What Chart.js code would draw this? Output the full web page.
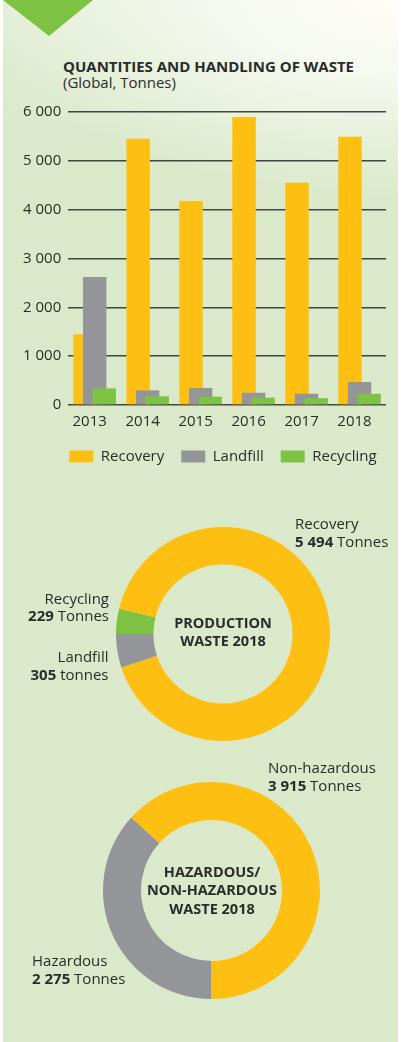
<!DOCTYPE html>
<html>
<head>
<meta charset="utf-8">
<script src="https://cdn.jsdelivr.net/npm/chart.js@4.4.1/dist/chart.umd.min.js"></script>
<style>
  html, body { margin:0; padding:0; width:401px; height:1042px; overflow:hidden; background:#ffffff; }
  #panel { position:absolute; left:3px; top:0; width:395px; height:1042px;
    background:
      linear-gradient(to bottom, rgba(255,255,255,0.22) 0px, rgba(255,255,255,0) 140px),
      radial-gradient(ellipse 420px 200px at 100% 0%, #fffdf4 0%, #f5f9ef 35%, rgba(218,233,202,0) 100%),
      #dae9ca; }
  #tri { position:absolute; left:0; top:0; width:100px; height:40px; background:#7dc243;
    clip-path: polygon(3px 0, 93px 0, 49px 36px); }
  .t { position:absolute; font-family:'Open Sans', sans-serif; color:#2b2b2b; font-size:15px; line-height:18px; white-space:nowrap; }
  .t b { font-weight:700; }
  .ctr { position:absolute; width:170px; text-align:center; font-family:'Open Sans', sans-serif; font-weight:700;
    font-size:14.5px; line-height:18.5px; color:#2b2b2b; white-space:nowrap; }
  canvas { position:absolute; }
</style>
</head>
<body>
<div id="panel"></div>
<div id="tri"></div>

<div class="t" style="left:63px; top:57.5px; line-height:16px;"><b id="title"></b><br><span id="subtitle"></span></div>

<canvas id="bar" width="401" height="385" style="left:0; top:96px; width:401px; height:385px;"></canvas>

<canvas id="d1" width="214" height="214" style="left:116px; top:527px; width:214px; height:214px;"></canvas>
<div class="ctr" id="c1" style="left:138px; top:613.6px;"></div>
<div class="t" id="lRecovery" style="left:295px; top:513.5px;"></div>
<div class="t" id="lRecycling" style="right:292px; top:589.5px; text-align:right; line-height:17.5px;"></div>
<div class="t" id="lLandfill" style="right:292.5px; top:646.5px; text-align:right;"></div>

<canvas id="d2" width="217" height="217" style="left:103px; top:782px; width:217px; height:217px;"></canvas>
<div class="ctr" id="c2" style="left:127px; top:862.8px;"></div>
<div class="t" id="lNonHaz" style="left:268px; top:757.5px; line-height:18.5px;"></div>
<div class="t" id="lHaz" style="left:32px; top:951px;"></div>

<script>
// ---- data ----
const chartTitle = 'QUANTITIES AND HANDLING OF WASTE';
const chartSubtitle = '(Global, Tonnes)';
const years = ['2013', '2014', '2015', '2016', '2017', '2018'];
const seriesNames = ['Recovery', 'Landfill', 'Recycling'];
const recovery = [1450, 5450, 4180, 5900, 4550, 5494];
const landfill = [2620, 300, 350, 250, 230, 470];
const recycling = [340, 180, 170, 150, 140, 229];
const yMin = 0, yMax = 6000, yStep = 1000;

const productionTitle = ['PRODUCTION', 'WASTE 2018'];
const productionLabels = ['Recovery', 'Landfill', 'Recycling'];
const productionValues = [5494, 305, 229];
const productionUnits = ['Tonnes', 'tonnes', 'Tonnes'];

const hazardTitle = ['HAZARDOUS/', 'NON-HAZARDOUS', 'WASTE 2018'];
const hazardLabels = ['Hazardous', 'Non-hazardous'];
const hazardValues = [2275, 3915];
const hazardUnits = ['Tonnes', 'Tonnes'];

// ---- styles ----
const YELLOW = '#fdc012', GREY = '#939598', GREEN = '#7dc243', TEXT = '#2b2b2b';
const FONT = "'Open Sans', sans-serif";
Chart.defaults.font.family = FONT;
Chart.defaults.color = TEXT;

const fmt = v => String(v).replace(/\B(?=(\d{3})+(?!\d))/g, ' ');

document.getElementById('title').textContent = chartTitle;
document.getElementById('subtitle').textContent = chartSubtitle;
document.getElementById('c1').innerHTML = productionTitle.join('<br>');
document.getElementById('c2').innerHTML = hazardTitle.join('<br>');
const lab = (id, name, v, unit) => {
  document.getElementById(id).innerHTML = name + '<br><b>' + fmt(v) + '</b> ' + unit;
};
lab('lRecovery', productionLabels[0], productionValues[0], productionUnits[0]);
lab('lLandfill', productionLabels[1], productionValues[1], productionUnits[1]);
lab('lRecycling', productionLabels[2], productionValues[2], productionUnits[2]);
lab('lHaz', hazardLabels[0], hazardValues[0], hazardUnits[0]);
lab('lNonHaz', hazardLabels[1], hazardValues[1], hazardUnits[1]);

// draw datasets in index order so later series overlap earlier ones
const indexOrderDraw = {
  id: 'indexOrderDraw',
  beforeDatasetsDraw(chart) {
    chart.getSortedVisibleDatasetMetas().forEach(m => m.controller.draw());
    return false;
  }
};
// nudge the legend row, as in the original layout
const legendShift = {
  id: 'legendShift',
  afterLayout(chart) {
    const lg = chart.legend;
    if (lg) { lg.left += 22; lg.right += 22; lg.top -= 7; lg.bottom -= 7; }
  }
};

new Chart(document.getElementById('bar'), {
  type: 'bar',
  data: {
    labels: years,
    datasets: [
      { label: seriesNames[0], data: recovery, backgroundColor: YELLOW },
      { label: seriesNames[1], data: landfill, backgroundColor: GREY },
      { label: seriesNames[2], data: recycling, backgroundColor: GREEN }
    ]
  },
  options: {
    responsive: false,
    devicePixelRatio: 1,
    animation: false,
    categoryPercentage: 0.54,
    barPercentage: 2.46,
    layout: { padding: { left: 16, right: 15, top: 14, bottom: 0 } },
    scales: {
      x: {
        grid: { display: false, drawTicks: false },
        border: { display: false },
        ticks: { font: { size: 15 }, color: TEXT, padding: 8, labelOffset: -5 }
      },
      y: {
        min: yMin, max: yMax,
        grid: { color: 'rgba(50,50,50,0.9)', lineWidth: 1.4, drawTicks: false },
        border: { display: false },
        ticks: { stepSize: yStep, font: { size: 15 }, color: TEXT, padding: 7, callback: v => fmt(v) }
      }
    },
    plugins: {
      legend: {
        position: 'bottom',
        labels: { boxWidth: 24, boxHeight: 12, padding: 17, font: { size: 15 }, color: TEXT }
      },
      tooltip: { enabled: false }
    }
  },
  plugins: [indexOrderDraw, legendShift]
});

const donutOpts = (rotation) => ({
  responsive: false,
  devicePixelRatio: 1,
  animation: false,
  cutout: '65%',
  rotation: rotation,
  layout: { padding: 0 },
  plugins: { legend: { display: false }, tooltip: { enabled: false } }
});

new Chart(document.getElementById('d1'), {
  type: 'doughnut',
  data: {
    labels: productionLabels,
    datasets: [{ data: productionValues, backgroundColor: [YELLOW, GREY, GREEN],
      borderWidth: 0, hoverOffset: 0, offset: 0, hoverBorderWidth: 0 }]
  },
  options: donutOpts(283.7)
});

new Chart(document.getElementById('d2'), {
  type: 'doughnut',
  data: {
    labels: hazardLabels,
    datasets: [{ data: hazardValues, backgroundColor: [GREY, YELLOW],
      borderWidth: 0, hoverOffset: 0, offset: 0, hoverBorderWidth: 0 }]
  },
  options: donutOpts(180)
});
</script>
</body>
</html>
